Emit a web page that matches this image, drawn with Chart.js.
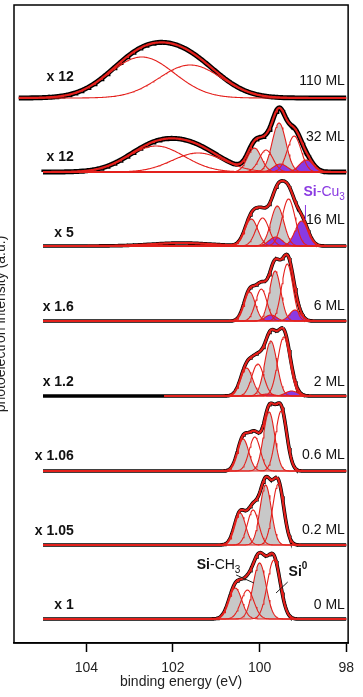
<!DOCTYPE html>
<html>
<head>
<meta charset="utf-8">
<script src="https://cdn.jsdelivr.net/npm/chart.js@4.4.0/dist/chart.umd.min.js"></script>
<style>
html, body { margin: 0; padding: 0; background: #fff; }
</style>
</head>
<body>
<canvas id="myChart" width="363" height="697"></canvas>
<script>
// Si 2p spectra, bottom to top
const layers = ['0 ML', '0.2 ML', '0.6 ML', '2 ML', '6 ML', '16 ML', '32 ML', '110 ML'];
const factors = ['x 1', 'x 1.05', 'x 1.06', 'x 1.2', 'x 1.6', 'x 5', 'x 12', 'x 12'];
const offsets = [24, 98, 172, 247, 322, 397, 471, 545];
const dataStart = [105, 105, 105, 105, 105, 105, 105, 105.57];
const fitStart = [105, 105, 105, 102.2, 105, 105, 105, 105.57];
const dataEnd = 98;
const sigma = [0.15, 0.13, 0.13, 0.14, 0.13, 0.15, 0.16, 0.16];

// Si-CH3 doublet (grey): [2p3/2, 2p1/2]
const ch3Pos = [[100.0, 100.56], [99.86, 100.45], [99.78, 100.38], [99.74, 100.3], [99.64, 100.23], [99.59, 100.19], [99.55, 100.12], [0, 0]];
const ch3Amp = [[56, 31], [60, 32], [59, 32], [55, 28], [50, 29], [40, 27], [49, 24], [0, 0]];
// Si0 doublet (open)
const si0Pos = [[99.67, 100.28], [99.57, 100.15], [99.5, 100.11], [99.44, 100.04], [99.36, 99.96], [99.33, 99.93], [99.2, 99.85], [0, 0]];
const si0Amp = [[59, 29], [61, 35], [60, 34], [59, 32], [57, 32], [47, 28], [36, 22], [0, 0]];
// Si-Cu3 doublet (purple)
const cuPos = [[0, 0], [0, 0], [0, 0], [99.26, 99.82], [99.18, 99.74], [99.03, 99.63], [98.92, 99.52], [0, 0]];
const cuAmp = [[0, 0], [0, 0], [0, 0], [5, 2], [11, 6], [25, 9], [12, 8], [0, 0]];
// broad high energy components
const broadPos = [[], [], [], [], [], [101.8], [102.39, 101.42], [102.72, 101.6]];
const broadAmp = [[], [], [], [], [], [3], [26, 19], [41, 33]];
const broadWid = [[], [], [], [], [], [0.7], [0.65, 0.6], [0.75, 0.72]];

const tickVals = [104, 102, 100, 98];

const FONT = "'Liberation Sans', Arial, sans-serif";
const RED = 'rgb(228,32,28)';
const GREY = 'rgb(200,200,200)';
const PURPLE = 'rgb(138,58,226)';
const step = 0.02;

function gauss(e, c, a, s) {
	return a * Math.exp(-((e - c) * (e - c)) / (2 * s * s));
}

function grid(start) {
	const n = Math.round((start - dataEnd) / step);
	const xs = [];
	for (let k = n; k >= 0; k--) xs.push(+(dataEnd + k * step).toFixed(3));
	return xs;
}

const datasets = [];
layers.forEach((name, i) => {
	const base = offsets[i];
	const comps = [];
	for (let j = 0; j < 2; j++) {
		if (ch3Amp[i][j]) comps.push({ c: ch3Pos[i][j], a: ch3Amp[i][j], s: sigma[i], fill: GREY, order: 5 });
		if (si0Amp[i][j]) comps.push({ c: si0Pos[i][j], a: si0Amp[i][j], s: sigma[i], fill: null });
		if (cuAmp[i][j]) comps.push({ c: cuPos[i][j], a: cuAmp[i][j], s: sigma[i], fill: PURPLE, order: 4 });
	}
	broadPos[i].forEach((c, j) => comps.push({ c: c, a: broadAmp[i][j], s: broadWid[i][j], fill: null }));
	const total = e => base + comps.reduce((acc, p) => acc + gauss(e, p.c, p.a, p.s), 0);

	// measured points (black)
	datasets.push({
		data: grid(dataStart[i]).map(e => ({ x: e, y: total(e) })),
		borderColor: '#000', borderWidth: i >= 6 ? 5 : 3.6, pointRadius: 0, fill: false, order: 9
	});

	const xs = grid(fitStart[i]);
	comps.forEach(p => {
		const pts = xs.map(e => ({ x: e, y: base + gauss(e, p.c, p.a, p.s) }));
		if (p.fill) {
			datasets.push({ data: pts, borderWidth: 0, borderColor: 'rgba(0,0,0,0)', backgroundColor: p.fill,
				fill: { value: base }, pointRadius: 0, order: p.order });
		}
		datasets.push({ data: pts, borderColor: RED, borderWidth: 1.1, pointRadius: 0, fill: false, order: 2 });
	});
	// fit envelope
	datasets.push({
		data: xs.map(e => ({ x: e, y: total(e) })),
		borderColor: RED, borderWidth: 2.2, pointRadius: 0, fill: false, order: 1
	});
});

function richText(ctx, parts, x, y, align) {
	let w = 0;
	parts.forEach(p => {
		ctx.font = (p.bold ? 'bold ' : '') + (p.sub || p.sup ? 10 : 14) + 'px ' + FONT;
		p.w = ctx.measureText(p.t).width;
		w += p.w;
	});
	let cx = align === 'right' ? x - w : x;
	parts.forEach(p => {
		ctx.font = (p.bold ? 'bold ' : '') + (p.sub || p.sup ? 10 : 14) + 'px ' + FONT;
		ctx.fillStyle = p.color || '#111';
		ctx.fillText(p.t, cx, y + (p.sub ? 5 : p.sup ? -6 : 0));
		cx += p.w;
	});
}

const decor = {
	id: 'decor',
	afterDraw(chart) {
		const { ctx, chartArea: a, scales: { x, y } } = chart;
		ctx.save();
		ctx.strokeStyle = '#000';
		ctx.lineWidth = 1.5;
		ctx.strokeRect(a.left, a.top, a.right - a.left, a.bottom - a.top);

		ctx.textBaseline = 'middle';
		const factorUp = [14, 14, 15, 14, 14, 13, 15, 21];
		const layerUp = [14, 15, 16, 14, 15, 26, 35, 16.5];
		layers.forEach((name, i) => {
			richText(ctx, [{ t: factors[i], bold: true }], x.getPixelForValue(104.29), y.getPixelForValue(offsets[i] + factorUp[i]), 'right');
			richText(ctx, [{ t: name }], x.getPixelForValue(98.03), y.getPixelForValue(offsets[i] + layerUp[i]), 'right');
		});

		// Si-Cu3 label
		richText(ctx, [{ t: 'Si', bold: true, color: PURPLE }, { t: '-Cu', color: PURPLE }, { t: '3', sub: true, color: PURPLE }],
			x.getPixelForValue(98.03), y.getPixelForValue(offsets[5] + 54), 'right');
		ctx.strokeStyle = PURPLE;
		ctx.lineWidth = 1;
		ctx.beginPath();
		ctx.moveTo(x.getPixelForValue(98.94), y.getPixelForValue(offsets[5] + 41));
		ctx.lineTo(x.getPixelForValue(98.94), y.getPixelForValue(offsets[5] + 26));
		ctx.stroke();

		// Si-CH3 and Si0 labels
		richText(ctx, [{ t: 'Si', bold: true }, { t: '-CH' }, { t: '3', sub: true }],
			x.getPixelForValue(101.45), y.getPixelForValue(offsets[0] + 54), 'left');
		richText(ctx, [{ t: 'Si', bold: true }, { t: '0', sup: true, bold: true }],
			x.getPixelForValue(99.33), y.getPixelForValue(offsets[0] + 47), 'left');
		ctx.strokeStyle = '#222';
		ctx.beginPath();
		ctx.moveTo(x.getPixelForValue(100.54), y.getPixelForValue(offsets[0] + 44));
		ctx.lineTo(x.getPixelForValue(100.13), y.getPixelForValue(offsets[0] + 36));
		ctx.moveTo(x.getPixelForValue(99.35), y.getPixelForValue(offsets[0] + 37));
		ctx.lineTo(x.getPixelForValue(99.62), y.getPixelForValue(offsets[0] + 26));
		ctx.stroke();

		// axis titles
		ctx.fillStyle = '#222';
		ctx.font = '14px ' + FONT;
		ctx.textAlign = 'center';
		ctx.fillText('binding energy (eV)', (a.left + a.right) / 2, 682);
		ctx.translate(1, (a.top + a.bottom) / 2);
		ctx.rotate(-Math.PI / 2);
		ctx.fillText('photoelectron intensity (a.u.)', 0, 0);
		ctx.restore();
	}
};

const ctx = document.getElementById('myChart').getContext('2d');
const myChart = new Chart(ctx, {
	type: 'line',
	data: { datasets: datasets },
	plugins: [decor],
	options: {
		responsive: false,
		animation: false,
		devicePixelRatio: 1,
		layout: { padding: { left: 14, right: 6, top: 5, bottom: 13 } },
		plugins: { legend: { display: false }, tooltip: { enabled: false } },
		elements: { line: { tension: 0 } },
		scales: {
			x: {
				type: 'linear',
				reverse: true,
				min: 97.955,
				max: 105.67,
				afterBuildTicks: s => { s.ticks = tickVals.map(v => ({ value: v })); },
				ticks: { font: { family: FONT, size: 14, lineHeight: 1 }, color: '#222', padding: 9, maxRotation: 0, autoSkip: false },
				grid: { display: true, drawOnChartArea: false, drawTicks: true, tickLength: 9, tickWidth: 1.5, tickColor: '#000' },
				border: { display: true, color: '#000', width: 1.5 }
			},
			y: { display: false, min: 0, max: 638 }
		}
	}
});
</script>
</body>
</html>
